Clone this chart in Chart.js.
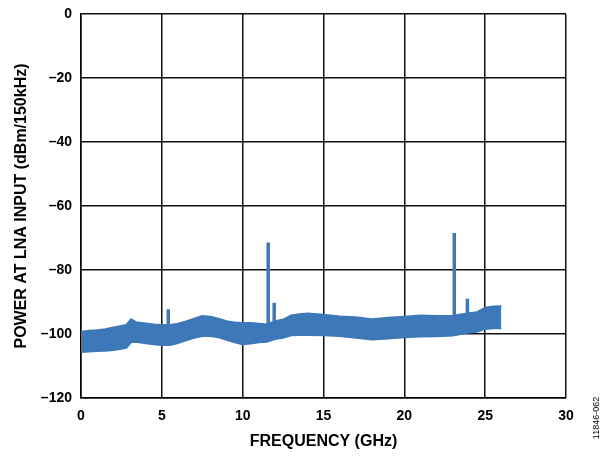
<!DOCTYPE html>
<html lang="en">
<head>
<meta charset="UTF-8" />
<title>Power at LNA input vs frequency</title>
<script src="https://cdn.jsdelivr.net/npm/chart.js@4.4.1/dist/chart.umd.min.js"></script>
<style>
    html, body { margin: 0; padding: 0; background: #fff; }
    #wrap { width: 614px; height: 457px; }
</style>
</head>
<body>
<div id="wrap"><canvas id="chart"></canvas></div>
<script>
// === Data ===
// noise floor envelope (GHz, dBm/150kHz)
const bandFreq = [0, 0.5, 1, 1.5, 2, 2.5, 2.8, 3.1, 3.4, 4, 4.5, 5, 5.5, 6, 6.5, 7, 7.5, 8, 8.5, 9,
    9.5, 10, 10.5, 11, 11.5, 12, 12.5, 13, 13.5, 14, 15, 16, 17, 18, 19, 20, 21, 22, 23, 24,
    24.5, 25, 25.5, 26];
const bandUpper = [-99.3, -99, -98.8, -98.5, -98, -97.5, -97.2, -95.4, -96.3, -96.7, -97, -97.2, -97.2, -96.8, -96.1, -95.2, -94.4, -94.6, -95.2, -96,
    -96.4, -96.6, -96.6, -96.8, -97, -96, -95.5, -94.2, -93.8, -93.6, -94, -94.5, -94.8, -95.4, -94.9, -94.6, -94.2, -94.4, -94.3, -93.5,
    -93.2, -91.8, -91.4, -91.3];
const bandLower = [-105.6, -105.5, -105.3, -105.2, -105, -104.6, -104.3, -102.5, -102.4, -102.9, -103.2, -103.4, -103.4, -102.8, -102, -101.2, -100.6, -100.6, -101, -101.8,
    -102.6, -103.2, -103, -102.6, -102.4, -101.6, -101.2, -100.4, -100.3, -100.3, -100.4, -100.6, -101.2, -101.7, -101.4, -101, -100.8, -100.7, -100.5, -99.5,
    -99.3, -98.4, -98.2, -98.2];
// spurs
const spurFreq = [5.4, 11.58, 11.95, 23.09, 23.9];
const spurTop = [-92.3, -71.4, -90.2, -68.4, -89];
const spurBase = [-99, -99, -99, -97, -96];

const xTicks = [0, 5, 10, 15, 20, 25, 30];
const yTicks = [0, -20, -40, -60, -80, -100, -120];

const BLUE = "#3d78b9";
const FONT = "'Liberation Sans', Arial, Helvetica, sans-serif";

// spur segments separated by null gaps
const spurPoints = [];
spurFreq.forEach((f, i) => {
    spurPoints.push({ x: f, y: spurBase[i] }, { x: f, y: spurTop[i] }, { x: f, y: null });
});

// figure number printed sideways at the right edge
const figLabel = {
    id: "figLabel",
    afterDraw(chart) {
        const ctx = chart.ctx;
        ctx.save();
        ctx.translate(597, 418);
        ctx.rotate(-Math.PI / 2);
        ctx.font = "9px " + FONT;
        ctx.fillStyle = "#000";
        ctx.textAlign = "center";
        ctx.textBaseline = "middle";
        ctx.fillText("11846-062", 0, 0);
        ctx.restore();
    }
};

new Chart(document.getElementById("chart"), {
    type: "line",
    data: {
        datasets: [
            {
                data: bandFreq.map((f, i) => ({ x: f, y: bandUpper[i] })),
                borderColor: BLUE,
                backgroundColor: BLUE,
                borderWidth: 2,
                pointRadius: 0,
                fill: "+1"
            },
            {
                data: bandFreq.map((f, i) => ({ x: f, y: bandLower[i] })),
                borderColor: BLUE,
                borderWidth: 2,
                pointRadius: 0,
                fill: false
            },
            {
                data: spurPoints,
                borderColor: BLUE,
                borderWidth: 3.5,
                pointRadius: 0,
                spanGaps: false,
                fill: false
            }
        ]
    },
    options: {
        responsive: true,
        maintainAspectRatio: false,
        animation: false,
        layout: { padding: { left: 0, right: 48, top: 14, bottom: 0 } },
        plugins: { legend: { display: false }, tooltip: { enabled: false } },
        scales: {
            x: {
                type: "linear",
                min: 0,
                max: 30,
                afterBuildTicks: (s) => { s.ticks = xTicks.map((v) => ({ value: v })); },
                afterFit: (s) => { s.height = 59; },
                grid: { color: "#111", lineWidth: 1.5, drawTicks: false },
                border: { color: "#000", width: 1.5 },
                ticks: {
                    color: "#000",
                    padding: 10,
                    font: { family: FONT, size: 14, weight: "bold" }
                },
                title: {
                    display: true,
                    text: "FREQUENCY (GHz)",
                    color: "#000",
                    padding: { top: 2, bottom: 6 },
                    font: { family: FONT, size: 16, weight: "bold" }
                }
            },
            y: {
                min: -120,
                max: 0,
                afterBuildTicks: (s) => { s.ticks = yTicks.map((v) => ({ value: v })); },
                afterFit: (s) => {
                    s.width = 81;
                    // let the layout padding alone decide the top edge
                    s.paddingTop = 0;
                    s.paddingBottom = 0;
                },
                grid: { color: "#111", lineWidth: 1.5, drawTicks: false },
                border: { color: "#000", width: 1.5 },
                ticks: {
                    color: "#000",
                    padding: 9,
                    font: { family: FONT, size: 14, weight: "bold" },
                    callback: (v) => String(v).replace("-", "\u2013")
                },
                title: {
                    display: true,
                    text: "POWER AT LNA INPUT (dBm/150kHz)",
                    color: "#000",
                    padding: { top: 12, bottom: 0 },
                    font: { family: FONT, size: 16, weight: "bold" }
                }
            }
        }
    },
    plugins: [figLabel]
});
</script>
</body>
</html>
